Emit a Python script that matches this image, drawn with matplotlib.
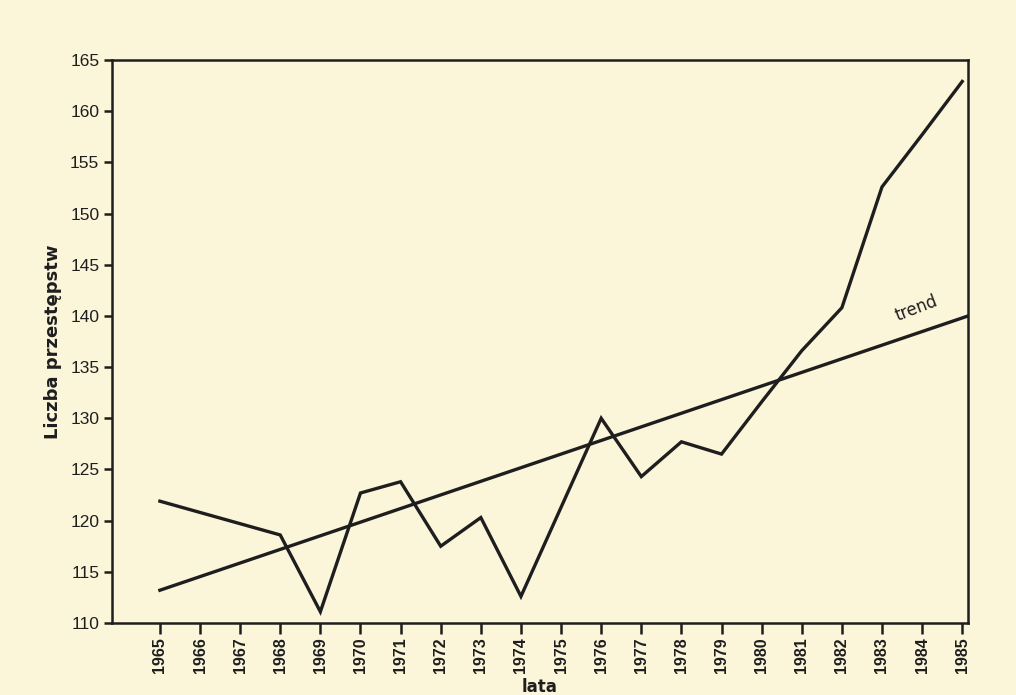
import matplotlib
matplotlib.use("Agg")
import matplotlib.pyplot as plt

# Data
years = [1965, 1968, 1969, 1970, 1971, 1972, 1973, 1974, 1976, 1977,
         1978, 1979, 1980, 1981, 1982, 1983, 1984, 1985]
crimes = [121.9, 118.6, 111.1, 122.7, 123.8, 117.5, 120.3, 112.6, 130.0, 124.3,
          127.7, 126.5, 131.6, 136.6, 140.8, 152.6, 157.7, 162.9]
trend_years = [1965, 1985.15]
trend_values = [113.2, 140.0]
tick_years = list(range(1965, 1986))
y_ticks = list(range(110, 166, 5))

bg = "#fbf5d9"
ink = "#1e1e1e"
font = "Liberation Sans"

fig = plt.figure(figsize=(10.16, 6.95), dpi=100, facecolor=bg)
ax = fig.add_axes([0.110, 0.1036, 0.843, 0.8101], facecolor=bg)

ax.plot(years, crimes, color=ink, lw=2.4, solid_joinstyle="miter")
ax.plot(trend_years, trend_values, color=ink, lw=2.4)

ax.set_xlim(1963.8, 1985.15)
ax.set_ylim(110, 165)
ax.set_xticks(tick_years)
ax.set_xticklabels([str(y) for y in tick_years], rotation=90, family=font,
                   fontsize=11.5, fontweight="bold", color=ink)
ax.set_yticks(y_ticks)
ax.set_yticklabels([str(v) for v in y_ticks], family=font, fontsize=12.5,
                   color=ink)

for s in ax.spines.values():
    s.set_color(ink)
    s.set_linewidth(1.8)

ax.tick_params(axis="x", direction="out", length=8, width=1.8, color=ink, pad=2)
ax.tick_params(axis="y", direction="out", length=6, width=1.8, color=ink, pad=3)

ax.text(1983.85, 139.1, "trend", rotation=21, fontsize=12, color=ink,
        ha="center", va="bottom")

ax.set_xlabel("lata", fontsize=12, fontweight="bold", color=ink, labelpad=4)
ax.set_ylabel("Liczba przestępstw", fontsize=13, fontweight="bold", color=ink,
              labelpad=6)

fig.savefig("out.png", dpi=100, facecolor=bg)
